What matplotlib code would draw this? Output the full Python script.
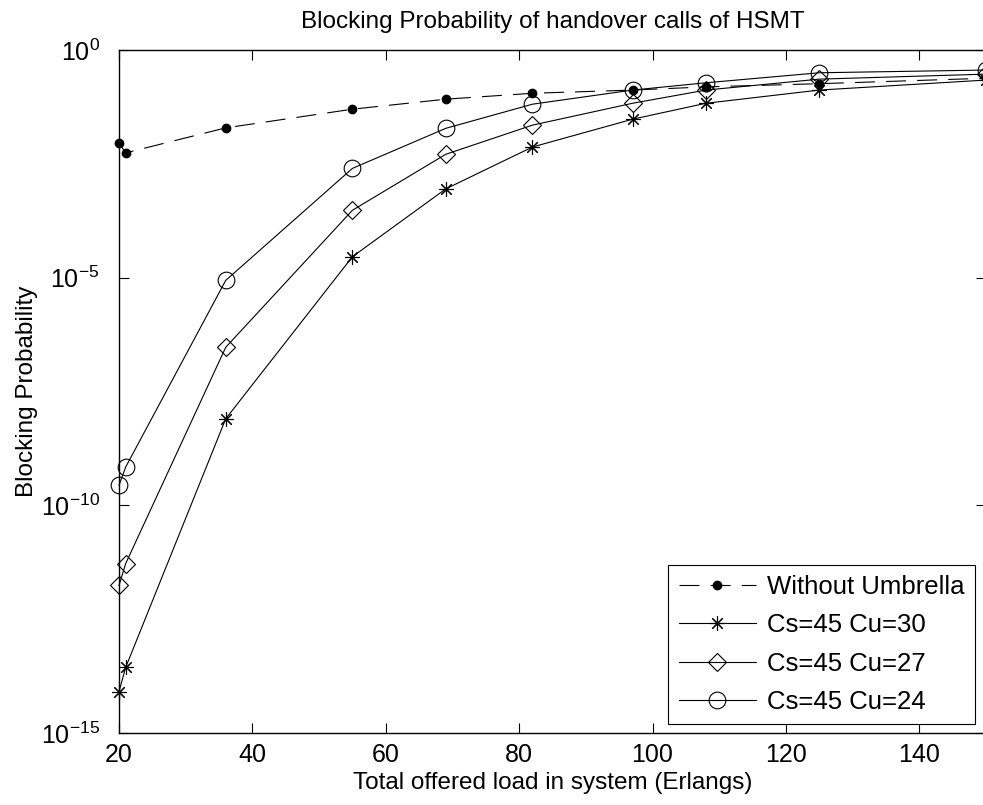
import matplotlib
matplotlib.use("Agg")
import matplotlib.pyplot as plt
from matplotlib.ticker import NullLocator

plt.rcParams['font.family'] = ['Liberation Sans', 'DejaVu Sans']
plt.rcParams['mathtext.fontset'] = 'custom'
plt.rcParams['mathtext.rm'] = 'Liberation Sans'
plt.rcParams['mathtext.it'] = 'Liberation Sans:italic'
plt.rcParams['mathtext.bf'] = 'Liberation Sans:bold'
plt.rcParams['mathtext.default'] = 'regular'

load = [20, 21, 36, 55, 69, 82, 97, 108, 125, 150]
without_umbrella = [10**-2.04, 10**-2.26, 10**-1.71, 10**-1.30, 10**-1.08,
                    10**-0.95, 10**-0.88, 10**-0.81, 10**-0.74, 10**-0.62]
cu30 = [10**-14.09, 10**-13.56, 10**-8.10, 10**-4.54, 10**-3.05,
        10**-2.13, 10**-1.52, 10**-1.17, 10**-0.88, 10**-0.66]
cu27 = [10**-11.76, 10**-11.28, 10**-6.53, 10**-3.52, 10**-2.29,
        10**-1.65, 10**-1.17, 10**-0.88, 10**-0.64, 10**-0.53]
cu24 = [10**-9.56, 10**-9.16, 10**-5.06, 10**-2.60, 10**-1.72,
        10**-1.19, 10**-0.88, 10**-0.72, 10**-0.50, 10**-0.44]
labels = ["Without Umbrella", "Cs=45 Cu=30", "Cs=45 Cu=27", "Cs=45 Cu=24"]
xticks = [20, 40, 60, 80, 100, 120, 140]
yticks = [1e-15, 1e-10, 1e-5, 1e0]
ytick_labels = ["10$^{-15}$", "10$^{-10}$", "10$^{-5}$", "10$^{0}$"]

fig = plt.figure(figsize=(9.83, 8.05), dpi=100)
ax = fig.add_axes([119/983, 1 - 733/805, (986 - 119)/983, (733 - 50)/805])

lw = 0.8
common = dict(color='black', lw=lw, clip_on=False, zorder=3)
ax.plot(load, without_umbrella, dashes=(18, 10), marker='o', markersize=6,
        markerfacecolor='black', label=labels[0], **common)
ax.plot(load, cu30, marker=(8, 2, 0), markersize=10.5, markeredgewidth=0.8,
        label=labels[1], **common)
ax.plot(load, cu27, marker='D', markersize=9, markerfacecolor='none',
        markeredgewidth=0.8, label=labels[2], **common)
ax.plot(load, cu24, marker='o', markersize=12, markerfacecolor='none',
        markeredgewidth=0.8, label=labels[3], **common)

ax.set_yscale('log')
ax.set_xlim(20, 150)
ax.set_ylim(1e-15, 1e0)
ax.set_xticks(xticks)
ax.set_yticks(yticks)
ax.set_yticklabels(ytick_labels)
ax.yaxis.set_minor_locator(NullLocator())
ax.tick_params(direction='in', top=True, right=True, length=7, width=0.8,
               labelsize=18)
ax.tick_params(axis='x', pad=7)
ax.tick_params(axis='y', pad=14)
for s in ax.spines.values():
    s.set_linewidth(1.0)

ax.set_xlabel("Total offered load in system (Erlangs)", fontsize=17.5, labelpad=4)
ax.set_ylabel("Blocking Probability", fontsize=17.5, labelpad=2)
ax.set_title("Blocking Probability of handover calls of HSMT", fontsize=17.5, pad=16)

leg = ax.legend(loc='lower right', fontsize=18.5, fancybox=False,
                edgecolor='black', framealpha=1, borderaxespad=0,
                handlelength=3.0, handletextpad=0.45, labelspacing=0.55,
                borderpad=0.4)
leg.get_frame().set_linewidth(0.8)
leg.set_bbox_to_anchor((975/983, 1 - 724/805), transform=fig.transFigure)

fig.savefig("out.png", dpi=100)
